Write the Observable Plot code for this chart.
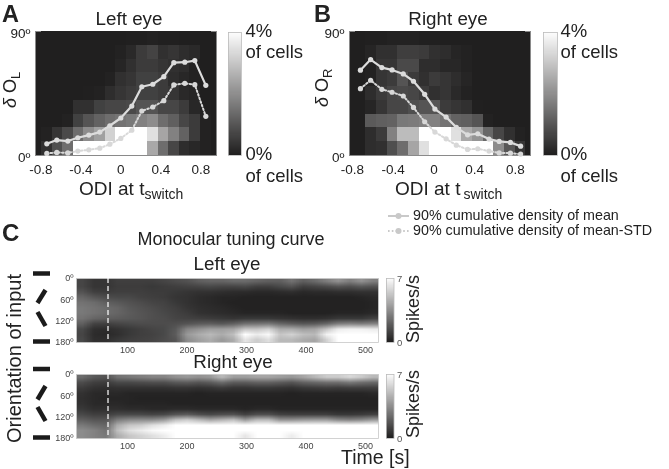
<!DOCTYPE html>
<html>
<head>
<meta charset="utf-8">
<script src="https://cdn.jsdelivr.net/npm/d3@7"></script>
<script src="https://cdn.jsdelivr.net/npm/@observablehq/plot@0.6"></script>
<style>
  html, body { margin: 0; background: #fff; }
  #page { position: relative; width: 669px; height: 469px; overflow: hidden; font-family: "Liberation Sans", Arial, sans-serif; color: #222; filter: blur(0.35px); }
  #page svg { overflow: visible; }
</style>
</head>
<body>
<div id="page"></div>
<script>
// ---------- Data ----------
const odiLeft  = [-0.74,-0.64,-0.53,-0.43,-0.32,-0.21,-0.11,0,0.11,0.21,0.32,0.43,0.53,0.64,0.74,0.85];
const odiRight = [-0.72,-0.62,-0.51,-0.41,-0.30,-0.20,-0.09,0.01,0.12,0.22,0.33,0.43,0.54,0.64,0.75,0.85];
const leftMean     = [8.5,11.2,10.5,12.9,14.8,17,21.6,27.2,35.9,49.9,51.7,57.2,67.4,67.7,68.9,50.9];
const leftMeanStd  = [1.5,2.2,1.9,3.2,4.1,5.3,8.2,12.4,18.4,32.3,35.2,39.8,51.2,52.4,51.4,28.4];
const rightMean    = [61.9,69.6,63.8,62.1,59.2,53.9,44.4,33.7,27.9,20.4,15,15.8,11.9,10.2,9.5,6.8];
const rightMeanStd = [48.5,54.6,48,45.9,43.2,34.9,24.5,17,12.1,7.5,4.4,4.9,3.2,1.9,1.7,1];
const oTicks = [-0.8,-0.4,0,0.4,0.8];

// % of cells; rows run from the 80-90 degree bin down to the 0-10 degree bin
const leftDensity = [
  [0,0,0,0,0,0,0,0,.02,.02,.05,.02,.02,0,0,0],
  [0,0,0,0,0,0,0,.05,.18,.5,.65,.3,.4,.25,.18,0],
  [0,0,0,0,0,0,0,.1,.3,.5,.5,.4,.3,.25,.05,0],
  [0,0,0,0,0,0,.05,.3,.4,.6,.6,.5,.25,.15,.05,0],
  [0,0,0,0,.02,.05,.25,.4,.5,.6,.6,.5,.4,.18,.1,0],
  [0,0,0,.3,.3,.6,.7,.7,.75,.95,.95,.7,.7,.5,.15,.02],
  [0,0,.05,.6,.95,1.2,1.4,1.5,1.6,1.75,1.95,1.4,1.15,.7,.5,.05],
  [.05,.4,.75,1.4,1.95,2.3,3.2,4,4,4,3.45,2.4,1.75,1.2,.5,.05],
  [.3,.85,1.4,4,4,4,4,4,4,4,2.45,1.4,.7,.25,.15,.05]
];
const rightDensity = [
  [0,.02,.02,.05,.05,.05,.02,.02,0,0,0,0,0,0,0,0],
  [0,.1,.3,.3,.55,.55,.5,.3,.25,.1,.05,0,0,0,0,0],
  [0,.05,.4,.4,.75,.75,.25,.25,.15,.15,.05,0,0,0,0,0],
  [0,.05,.4,.5,.95,.5,.3,.5,.4,.25,.1,0,0,0,0,0],
  [0,.25,.5,.7,.75,.7,.5,.3,.4,.18,.05,0,0,0,0,0],
  [0,.1,.4,.7,.7,.85,.95,.95,.5,.4,.3,.02,0,0,0,0],
  [0,1.05,1.15,1.2,1.6,1.65,1.75,1.75,1.5,1.2,1.15,.95,.05,0,0,0],
  [0,.25,.5,1.75,2.8,2.8,4,4,4,3.45,2.45,2.1,1.3,.7,.3,.05],
  [0,.25,.3,.85,1.4,2.4,3.45,4,4,4,4,4,4,1.95,1,.4]
];

// spikes/s; one list per 20 s time step, each running from 0 degrees to 180 degrees in 15 degree steps
const leftTuning = [
  [1.2,1.2,1.6,2.2,2.6,2.8,2.8,2.6,2.0,1.3,1.2,1.3],
  [.7,.7,1,1.7,2.4,2.6,2.6,2.2,1.1,.5,.4,.5],
  [.7,.7,.9,1.4,2,2.4,2.4,2,1,.4,.3,.5],
  [1,.9,1,1.3,1.8,2.2,2.2,1.9,1.2,.6,.5,.8],
  [1,.9,1,1.3,1.6,1.8,1.9,1.8,1.3,.8,.8,1],
  [1,.9,1,1.1,1.4,1.6,1.7,1.7,1.4,1,1,1.1],
  [1,.8,.9,1,1.2,1.4,1.5,1.5,1.4,1.2,1.1,1.2],
  [1.2,.9,.9,.9,1.1,1.2,1.3,1.4,1.4,1.3,1.3,1.4],
  [1.4,1,.8,.7,.8,1,1.1,1.2,1.5,1.8,1.9,1.7],
  [1.6,1.1,.7,.6,.6,.7,.9,1.1,1.7,3.2,3.8,3.4],
  [2,1.2,.6,.4,.4,.5,.6,1,1.9,3.6,4.4,4],
  [2.2,1.3,.6,.3,.3,.4,.5,.9,2,4,4.8,4.4],
  [2.2,1.2,.5,.2,.2,.3,.4,.8,1.8,4,4.4,3.8],
  [2.4,1.2,.4,.2,.1,.2,.3,.7,2.1,4.2,5,4.4],
  [2.4,1.3,.4,.1,.1,.1,.2,.8,2.6,5.2,7,6.2],
  [2.2,1,.3,.1,.1,.1,.2,.8,2.7,5.2,6.4,5.4],
  [2,1,.3,.1,.1,.1,.2,.8,2.8,5.6,6.8,6],
  [2,1.3,.4,.1,.1,.1,.2,.7,2.3,4.4,5.2,4.8],
  [2.6,1.6,.5,.1,.1,.1,.1,.6,2,4.4,5.6,4.8],
  [2,1,.3,.1,.1,.1,.1,.5,1.8,4,5,4.4],
  [2.4,1.2,.4,.1,.1,.1,.1,.5,1.9,4.2,4.8,4.2],
  [3,1.4,.4,.1,.1,.1,.1,.6,2.3,5.2,6.6,5.6],
  [3.6,1.7,.5,.1,.1,.1,.2,.8,3,6.4,8,7.4],
  [3,1.5,.5,.1,.1,.1,.2,.8,3.2,6.6,8.2,7.8],
  [3.6,1.8,.6,.2,.1,.1,.2,.8,3,6.6,8.2,7.6],
  [3,1.6,.6,.3,.2,.2,.3,1.1,3.2,6.4,8,7]
];
const rightTuning = [
  [2.4,1.4,.9,.6,.5,.6,.8,1.3,2,2.8,3.4,3.4],
  [1.8,1,.6,.3,.3,.3,.5,1,1.7,2.4,3.1,3.1],
  [1.6,.9,.5,.3,.2,.3,.5,1,1.7,2.2,2.6,2.8],
  [2.6,1.3,.6,.3,.2,.3,.5,1.3,2.9,4.4,5,4.4],
  [2.8,1.3,.6,.2,.2,.2,.4,1.3,3.3,5.2,6,5.2],
  [3,1.4,.6,.2,.1,.2,.4,1.3,3.4,5.4,6.4,5.6],
  [3.2,1.5,.6,.2,.1,.2,.3,1.2,3.4,6,6.8,6],
  [3.2,1.5,.6,.2,.1,.2,.3,1.3,3.8,6.4,7.2,6.4],
  [3.6,1.8,.7,.2,.1,.1,.4,1.7,5,8,8.6,7.4],
  [3.8,1.9,.7,.2,.1,.1,.4,1.9,5.4,8.6,9,7.6],
  [3.6,1.7,.6,.1,.1,.1,.3,1.5,4.8,8,9,7.4],
  [3.8,1.9,.7,.2,.1,.1,.3,1.3,4.2,7.6,8.8,7.6],
  [4.8,2.4,.9,.2,.1,.1,.3,1.5,4.6,8,9,7.6],
  [4,1.9,.7,.2,.1,.1,.3,1.6,5,8.4,9,7.6],
  [4,1.9,.7,.2,.1,.1,.2,1.1,3.8,7,7.6,6.2],
  [4.2,2.1,.8,.2,.1,.1,.3,1.5,4.8,8.4,9,7.8],
  [4.2,2.1,.8,.2,.1,.1,.3,1.5,4.8,8.4,9,7.8],
  [4,1.9,.7,.2,.1,.1,.2,1.1,3.6,7.4,8.6,7.2],
  [3.8,1.7,.6,.1,.1,.1,.2,1,3.6,7,7.8,6.4],
  [4.2,2.1,.8,.2,.1,.1,.2,1,3.8,7.4,8.6,7.6],
  [4.8,2.3,.9,.2,.1,.1,.2,1,3.9,7.8,9,8],
  [5.4,2.5,1,.2,.1,.1,.2,1,3.9,7.8,9,8],
  [5.4,2.5,.9,.2,.1,.1,.2,.8,3.3,7.6,9,8],
  [5.8,2.8,1,.2,.1,.1,.2,.8,3.1,7.6,9,8],
  [5.4,2.5,1,.2,.1,.1,.2,.9,3.3,7.6,9,8],
  [4.8,2.3,1,.3,.1,.1,.2,1.1,3.8,7.6,9,7.6]
];
const timeTicks = [100,200,300,400,500];
const orientationTicks = [0,60,120,180];
const switchTime = 67;

// ---------- Drawing ----------
const FONT = '"Liberation Sans", Arial, sans-serif';
const INK = "#222";
const DARK = "#201f1f";
const page = document.getElementById("page");
const degree = d => d + "º";

function place(plot, left, top) {
  plot.style.position = "absolute";
  plot.style.left = left + "px";
  plot.style.top = top + "px";
  plot.style.background = "transparent";
  page.appendChild(plot);
}

function densityPanel(matrix, odi, mean, meanStd, xDomain, left, plotWidth) {
  const cellW = (odi[15] - odi[0]) / 15;
  const edge = c => odi[0] + (c - 0.5) * cellW;
  const cells = matrix.flatMap((row, r) => row.map((v, c) => ({
    x1: edge(c), x2: edge(c + 1), bin: (8 - r) * 10, v
  })));
  const toPts = vals => vals.map((y, i) => ({x: odi[i], y}));
  const plot = Plot.plot({
    width: plotWidth + 40, height: 185,
    marginLeft: 35, marginRight: 5, marginTop: 31, marginBottom: 30,
    x: {domain: xDomain, axis: null},
    y: {domain: [0, 90], axis: null},
    color: {type: "linear", domain: [0, 4], range: [DARK, "#ffffff"], clamp: true},
    style: {fontFamily: FONT, color: INK, background: "transparent"},
    marks: [
      Plot.frame({fill: DARK, stroke: "#8a8a8a", strokeWidth: 1}),
      Plot.rect(cells, {
        x1: "x1", x2: "x2",
        y1: "bin", y2: d => d.bin + 10, fill: "v", shapeRendering: "crispEdges"
      }),
      Plot.axisX({ticks: oTicks, tickSize: 0, tickPadding: 9, fontSize: 13.5, tickFormat: d => String(d), label: null}),
      Plot.axisY({ticks: [0, 90], tickSize: 0, tickPadding: 5, fontSize: 13.5, tickFormat: degree, dy: 2, label: null}),
      Plot.line(toPts(mean), {x: "x", y: "y", stroke: "#dcdcdc", strokeWidth: 2.2}),
      Plot.dot(toPts(mean), {x: "x", y: "y", r: 2.6, fill: "#dcdcdc"}),
      Plot.line(toPts(meanStd), {x: "x", y: "y", stroke: "#d8d8d8", strokeWidth: 2, strokeDasharray: "1.6,2.2"}),
      Plot.dot(toPts(meanStd), {x: "x", y: "y", r: 2.6, fill: "#d8d8d8"})
    ]
  });
  place(plot, left, 0);
}

function colorBar(max, left, top, barW, barH, withTicks) {
  const step = max / 120;
  const levels = d3.range(0, max, step);
  const plot = Plot.plot({
    width: barW + (withTicks ? 20 : 0), height: barH + 12,
    marginLeft: 0, marginRight: withTicks ? 20 : 0, marginTop: 6, marginBottom: 6,
    x: {domain: [0, 1], axis: null},
    y: {domain: [0, max], axis: null},
    color: {type: "linear", domain: [0, max], range: [DARK, "#ffffff"]},
    style: {fontFamily: FONT, color: INK, background: "transparent"},
    marks: [
      Plot.rect(levels, {x1: 0, x2: 1, y1: d => d, y2: d => d + step, fill: d => d, shapeRendering: "crispEdges"}),
      Plot.frame({stroke: "#bbb", strokeWidth: 0.8}),
      withTicks ? Plot.axisY({anchor: "right", ticks: [0, max], tickSize: 0, tickPadding: 3, fontSize: 9.5, fill: "#555", tickFormat: d => String(d), label: null}) : null
    ]
  });
  place(plot, left, top - 6);
}

function tuningPanel(columns, top) {
  const flat = [];
  const cols = columns.length, rows = columns[0].length;
  for (let r = 0; r < rows; ++r) for (let c = 0; c < cols; ++c) flat.push(columns[c][r]);
  const plot = Plot.plot({
    width: 385, height: 84,
    marginLeft: 76, marginRight: 7, marginTop: 0, marginBottom: 20,
    x: {domain: [14, 522], axis: null},
    y: {domain: [0, 180], reverse: true, axis: null},
    color: {type: "linear", domain: [0, 7], range: [DARK, "#ffffff"], clamp: true},
    style: {fontFamily: FONT, color: INK, background: "transparent"},
    marks: [
      Plot.raster(flat, {width: cols, height: rows, x1: 14, x2: 522, y1: 0, y2: 180}),
      Plot.frame({stroke: "#c8c8c8", strokeWidth: 0.8}),
      Plot.ruleX([switchTime], {stroke: "#fff", strokeWidth: 1.2, strokeDasharray: "5,3"}),
      Plot.axisX({ticks: timeTicks, tickSize: 0, tickPadding: 4, fontSize: 9, fill: "#444", tickFormat: d => String(d), label: null}),
      Plot.axisY({ticks: orientationTicks, tickSize: 0, tickPadding: 3, fontSize: 9, fill: "#444", tickFormat: degree, label: null})
    ]
  });
  place(plot, 0, top);
}

densityPanel(leftDensity, odiLeft, leftMean, leftMeanStd, [-0.853, 0.957], 0, 181);
densityPanel(rightDensity, odiRight, rightMean, rightMeanStd, [-0.827, 0.947], 314, 181);
colorBar(4, 228, 32, 13, 123, false);
colorBar(4, 542.5, 32, 14, 123, false);
tuningPanel(leftTuning, 278);
tuningPanel(rightTuning, 373.5);
colorBar(7, 385.5, 278, 7.5, 64, true);
colorBar(7, 385.5, 373.5, 7.5, 64, true);

// ---------- Annotation layer: text, legend keys and orientation glyphs ----------
const overlay = d3.select(page).append("svg")
  .attr("width", 669).attr("height", 469)
  .style("position", "absolute").style("left", 0).style("top", 0).style("pointer-events", "none")
  .attr("font-family", FONT).attr("fill", INK);

function label(parts, x, y, size, opts = {}) {
  const t = overlay.append("text").attr("font-size", size)
    .attr("text-anchor", opts.anchor || "start")
    .attr("font-weight", opts.bold ? "bold" : null)
    .attr("transform", `translate(${x},${y})${opts.rotate ? " rotate(-90)" : ""}`);
  for (const p of [].concat(parts)) {
    if (typeof p === "string") t.append("tspan").text(p);
    else {
      const s = t.append("tspan").text(p.text);
      if (p.sub) s.attr("font-size", p.sub).attr("dy", p.dy);
      if (p.italic) s.attr("font-style", "italic");
      if (p.dx) s.attr("dx", p.dx);
    }
  }
}

label("A", 2, 21.5, 23.5, {bold: true});
label("B", 314, 21.5, 23.5, {bold: true});
label("C", 2, 241, 24, {bold: true});

label("Left eye", 129, 25, 18.8, {anchor: "middle"});
label("Right eye", 448, 25, 18.8, {anchor: "middle"});
label(["ODI at t", {text: "switch", sub: 14, dy: 4}], 79, 195, 19);
label(["ODI at t", {text: "switch", sub: 14, dy: 4, dx: 3}], 395, 195, 19);

label([{text: "δ", italic: true}, " O", {text: "L", sub: 13, dy: 4}], 16, 108, 18, {rotate: true});
label([{text: "δ", italic: true}, " O", {text: "R", sub: 13, dy: 4}], 328, 107, 18, {rotate: true});

for (const x of [245.5, 560.5]) {
  label("4%", x, 37, 18.5);
  label("of cells", x, 58, 18.5);
  label("0%", x, 160, 18.5);
  label("of cells", x, 182, 18.5);
}

label("Monocular tuning curve", 231, 245, 18, {anchor: "middle"});
label("Left eye", 227, 270, 18.8, {anchor: "middle"});
label("Right eye", 233, 368, 18.8, {anchor: "middle"});
label("Orientation of input", 21, 443, 20, {rotate: true});
label("Spikes/s", 419, 343, 18, {rotate: true});
label("Spikes/s", 419, 438, 18, {rotate: true});
label("Time [s]", 341, 464, 19.5);

// legend
function legendKey(y, dash) {
  overlay.append("line").attr("x1", 388).attr("x2", 409).attr("y1", y).attr("y2", y)
    .attr("stroke", "#c9c9c9").attr("stroke-width", 2).attr("stroke-dasharray", dash);
  overlay.append("circle").attr("cx", 398.5).attr("cy", y).attr("r", 3).attr("fill", "#c9c9c9");
}
legendKey(216, null);
legendKey(231, "1.6,2.2");
label("90% cumulative density of mean", 413, 220, 14.3);
label("90% cumulative density of mean-STD", 413, 235, 14.3);

// oriented-bar glyphs beside the tuning maps
function bar(x1, y1, x2, y2) {
  overlay.append("line").attr("x1", x1).attr("y1", y1).attr("x2", x2).attr("y2", y2)
    .attr("stroke", "#1b1b1b").attr("stroke-width", 4.5);
}
bar(33, 273.5, 50, 273.5);
bar(37.5, 303, 45.5, 290);
bar(37.5, 312, 45.5, 326);
bar(33, 341.5, 50, 341.5);
bar(33, 369, 50, 369);
bar(37.5, 399.5, 45.5, 386);
bar(37.5, 407, 45.5, 421);
bar(33, 437.5, 50, 437.5);
</script>
</body>
</html>
